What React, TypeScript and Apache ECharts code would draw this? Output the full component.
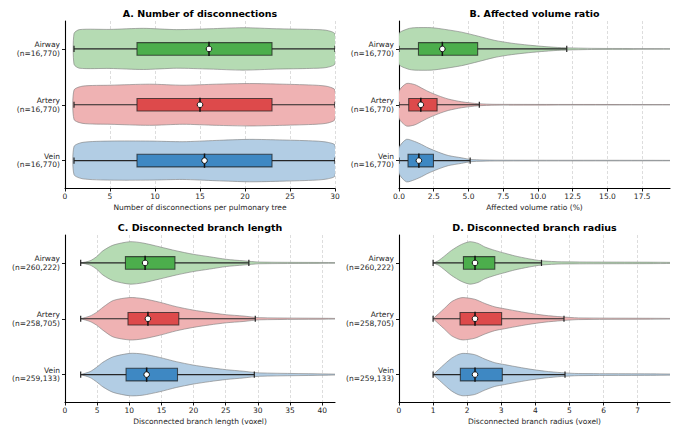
import React, { useEffect, useRef } from 'react';
import * as echarts from 'echarts';

// ---------- data ----------
const groups = ['Airway', 'Artery', 'Vein'];
const nTree = ['16,770', '16,770', '16,770'];
const nBranch = ['260,222', '258,705', '259,133'];

const titles = ['A. Number of disconnections', 'B. Affected volume ratio', 'C. Disconnected branch length', 'D. Disconnected branch radius'];
const axisNames = ['Number of disconnections per pulmonary tree', 'Affected volume ratio (%)', 'Disconnected branch length (voxel)', 'Disconnected branch radius (voxel)'];

const ticksA = [0, 5, 10, 15, 20, 25, 30];
const ticksB = [0, 2.5, 5, 7.5, 10, 12.5, 15, 17.5];
const ticksC = [0, 5, 10, 15, 20, 25, 30, 35, 40];
const ticksD = [0, 1, 2, 3, 4, 5, 6, 7];
const xMax = [30, 19.5, 42, 7.95];

// box statistics per group (Airway, Artery, Vein)
const q1A = [8, 8, 8];
const medA = [16, 15, 15.5];
const q3A = [23, 23, 23];
const wloA = [1, 1, 1];
const whiA = [30, 30, 30];
const meanA = [16, 15, 15.5];

const q1B = [1.4, 0.7, 0.65];
const medB = [3.12, 1.57, 1.43];
const q3B = [5.66, 2.74, 2.48];
const wloB = [0, 0, 0];
const whiB = [12.07, 5.78, 5.12];
const meanB = [3.12, 1.57, 1.43];

const q1C = [9.4, 9.8, 9.5];
const medC = [12.46, 12.9, 12.7];
const q3C = [17.1, 17.7, 17.5];
const wloC = [2.44, 2.44, 2.44];
const whiC = [28.6, 29.6, 29.45];
const meanC = [12.46, 12.9, 12.7];

const q1D = [1.89, 1.79, 1.8];
const medD = [2.23, 2.23, 2.23];
const q3D = [2.81, 3.01, 3.03];
const wloD = [1.0, 1.0, 1.0];
const whiD = [4.18, 4.84, 4.87];
const meanD = [2.23, 2.23, 2.23];

// violin profiles: [value, relative density (peak = 1)]
const violinA = [
  [[1, 0.72], [1.6, 0.91], [5, 0.92], [8.7, 0.97], [12.4, 0.91], [16.1, 0.95], [19.8, 1.0], [23.5, 0.95], [27.2, 0.92], [29, 0.88], [30, 0.7]],
  [[1, 0.69], [2, 0.88], [5, 0.92], [9.4, 0.97], [13.1, 0.92], [16.8, 0.97], [20.5, 1.0], [24.2, 0.97], [27.9, 0.92], [29.2, 0.86], [30, 0.69]],
  [[1, 0.66], [2, 0.86], [5, 0.92], [9.4, 0.92], [13.1, 0.89], [16.8, 0.95], [20.5, 1.0], [24.2, 0.97], [27.9, 0.92], [29.2, 0.86], [30, 0.72]],
];
const violinB = [
  [[0, 0.72], [0.65, 0.95], [1.13, 1.0], [2.34, 1.0], [3.3, 0.92], [4.5, 0.79], [5.7, 0.6], [6.9, 0.4], [8.1, 0.27], [9.3, 0.18], [10.5, 0.11], [11.7, 0.06], [14.1, 0.025], [19.6, 0.012]],
  [[0, 0.63], [0.53, 1.0], [1.13, 0.95], [1.62, 0.79], [2.09, 0.63], [2.82, 0.43], [3.54, 0.27], [4.5, 0.14], [5.7, 0.05], [6.9, 0.02], [19.6, 0.008]],
  [[0, 0.6], [0.53, 1.0], [1.13, 0.9], [1.62, 0.76], [2.09, 0.6], [2.82, 0.4], [3.54, 0.24], [4.5, 0.13], [5.2, 0.05], [6.9, 0.02], [19.6, 0.01]],
];
const violinC = [
  [[2.44, 0], [3.9, 0.1], [4.9, 0.29], [5.9, 0.57], [7.5, 0.84], [10.1, 1.0], [12.1, 0.94], [14.7, 0.76], [17.3, 0.57], [19.9, 0.41], [22.5, 0.29], [25.1, 0.17], [27.7, 0.1], [30.3, 0.04], [42.2, 0.015]],
  [[2.44, 0], [3.9, 0.13], [4.9, 0.3], [5.9, 0.54], [7.5, 0.86], [10.1, 1.0], [12.1, 0.95], [14.7, 0.78], [17.3, 0.57], [19.9, 0.41], [22.5, 0.29], [25.1, 0.19], [27.7, 0.13], [30.3, 0.05], [42.2, 0.015]],
  [[2.44, 0], [3.9, 0.14], [4.9, 0.34], [5.9, 0.58], [7.5, 0.84], [10.1, 1.0], [12.1, 0.97], [14.7, 0.81], [17.3, 0.61], [19.9, 0.45], [22.5, 0.33], [25.1, 0.23], [27.7, 0.16], [30.3, 0.08], [42.2, 0.02]],
];
const violinD = [
  [[1.0, 0], [1.15, 0.1], [1.34, 0.33], [1.54, 0.59], [1.83, 0.87], [2.08, 1.0], [2.32, 0.92], [2.52, 0.75], [2.81, 0.59], [3.1, 0.46], [3.4, 0.33], [3.79, 0.2], [4.18, 0.1], [4.77, 0.05], [8.0, 0.025]],
  [[1.0, 0], [1.15, 0.22], [1.34, 0.5], [1.54, 0.8], [1.73, 0.95], [1.88, 1.0], [2.22, 0.92], [2.52, 0.72], [2.81, 0.56], [3.1, 0.47], [3.4, 0.38], [3.79, 0.27], [4.28, 0.16], [4.77, 0.09], [5.26, 0.04], [8.0, 0.015]],
  [[1.0, 0], [1.15, 0.22], [1.34, 0.5], [1.54, 0.77], [1.73, 0.94], [1.88, 1.0], [2.22, 0.94], [2.52, 0.73], [2.81, 0.56], [3.1, 0.47], [3.4, 0.38], [3.79, 0.27], [4.28, 0.16], [4.77, 0.09], [5.26, 0.05], [8.0, 0.025]],
];

// ---------- styles ----------
const boxColors = ['#4cae4c', '#dd4a4b', '#3e88c3'];
const violinColors = ['#b5dbb3', '#efb2b3', '#b2cde4'];
const FONT = 'DejaVu Sans';

const gridsPos = [
  { left: 65, top: 21, width: 270, height: 167.5 },
  { left: 399, top: 21, width: 271, height: 167.5 },
  { left: 65, top: 235, width: 270, height: 167.5 },
  { left: 399, top: 235, width: 271, height: 167.5 },
];

function makeRender(profiles: number[][][]) {
  return (params: any, api: any) => {
    const i = params.dataIndex;
    const cat = api.value(0);
    const band = api.size([0, 1])[1];
    const hw = band * 0.38;
    const bh = band * 0.113;
    const capH = band * 0.055;
    const c = (v: number) => api.coord([v, cat]);
    const prof = profiles[i];
    const top = prof.map(([x, d]) => { const p = c(x); return [p[0], p[1] - d * hw]; });
    const bot = prof.slice().reverse().map(([x, d]) => { const p = c(x); return [p[0], p[1] + d * hw]; });
    const pts = top.concat(bot);
    const q1 = c(api.value(1));
    const med = c(api.value(2));
    const q3 = c(api.value(3));
    const wlo = c(api.value(4));
    const whi = c(api.value(5));
    const mean = c(api.value(6));
    const y = q1[1];
    const lineStyle = { stroke: '#262626', lineWidth: 1.2 };
    return {
      type: 'group',
      children: [
        { type: 'polygon', shape: { points: pts, smooth: 0.25 }, style: { fill: violinColors[i], stroke: 'rgba(128,128,128,0.7)', lineWidth: 0.9 } },
        { type: 'line', shape: { x1: wlo[0], y1: y, x2: whi[0], y2: y }, style: lineStyle },
        { type: 'line', shape: { x1: wlo[0], y1: y - capH, x2: wlo[0], y2: y + capH }, style: lineStyle },
        { type: 'line', shape: { x1: whi[0], y1: y - capH, x2: whi[0], y2: y + capH }, style: lineStyle },
        { type: 'rect', shape: { x: q1[0], y: y - bh, width: q3[0] - q1[0], height: 2 * bh }, style: { fill: boxColors[i], stroke: 'rgba(35,35,35,0.75)', lineWidth: 1.1 } },
        { type: 'line', shape: { x1: med[0], y1: y - bh - 0.8, x2: med[0], y2: y + bh + 0.8 }, style: { stroke: '#111', lineWidth: 1.5 } },
        { type: 'circle', shape: { cx: mean[0], cy: mean[1], r: 2.8 }, style: { fill: '#fff', stroke: '#111', lineWidth: 1 } },
      ],
    };
  };
}

export default function App() {
  const ref = useRef<HTMLDivElement>(null);
  useEffect(() => {
    if (!ref.current) return;
    const chart = echarts.init(ref.current, undefined, { renderer: 'svg' });
    const ticks = [ticksA, ticksB, ticksC, ticksD];
    const stats = [
      [q1A, medA, q3A, wloA, whiA, meanA],
      [q1B, medB, q3B, wloB, whiB, meanB],
      [q1C, medC, q3C, wloC, whiC, meanC],
      [q1D, medD, q3D, wloD, whiD, meanD],
    ];
    const violins = [violinA, violinB, violinC, violinD];
    const labelStyle = { fontFamily: FONT, fontSize: 7.5, color: '#262626' };

    const grid = gridsPos.map((g) => ({ ...g, containLabel: false }));
    const xAxis = ticks.map((t, k) => ({
      type: 'value',
      gridIndex: k,
      min: 0,
      max: xMax[k],
      interval: t[1] - t[0],
      name: axisNames[k],
      nameLocation: 'middle',
      nameGap: 15,
      nameTextStyle: { ...labelStyle },
      axisLine: { show: true, lineStyle: { color: '#000', width: 1.1 } },
      axisTick: { show: true, length: 3, lineStyle: { color: '#000', width: 0.9 }, customValues: t },
      axisLabel: {
        ...labelStyle, margin: 4, customValues: t,
        formatter: (v: number) => (k === 1 ? v.toFixed(1) : String(v)),
      },
      splitLine: { show: true, lineStyle: { color: '#d4d4d4', width: 0.8, type: [3, 2] } },
    }));
    const yAxis = ticks.map((_, k) => {
      const ns = k < 2 ? nTree : nBranch;
      return {
        type: 'category',
        gridIndex: k,
        inverse: true,
        data: groups.map((g, i) => `${g}\n(n=${ns[i]})`),
        axisLine: { show: true, lineStyle: { color: '#000', width: 1.1 } },
        axisTick: { show: true, alignWithLabel: true, length: 3, lineStyle: { color: '#000', width: 0.9 } },
        axisLabel: { ...labelStyle, margin: 5, lineHeight: 8.5, align: 'right' },
        splitLine: { show: false },
      };
    });
    const series = ticks.map((_, k) => ({
      type: 'custom',
      xAxisIndex: k,
      yAxisIndex: k,
      clip: true,
      renderItem: makeRender(violins[k]),
      encode: { x: [1, 2, 3, 4, 5, 6], y: 0 },
      data: groups.map((_, i) => [i, ...stats[k].map((arr) => arr[i])]),
      silent: true,
    }));
    const graphic = titles.map((t, k) => ({
      type: 'text',
      x: gridsPos[k].left + gridsPos[k].width / 2,
      y: gridsPos[k].top - 8,
      style: { text: t, fontFamily: FONT, fontWeight: 'bold', fontSize: 9.5, fill: '#000', align: 'center', verticalAlign: 'middle' },
    }));

    chart.setOption({
      animation: false,
      backgroundColor: '#fff',
      grid, xAxis, yAxis, series, graphic,
    } as any);
    return () => chart.dispose();
  }, []);
  return <div ref={ref} style={{ position: 'fixed', left: 0, top: 0, width: 679, height: 428 }} />;
}
